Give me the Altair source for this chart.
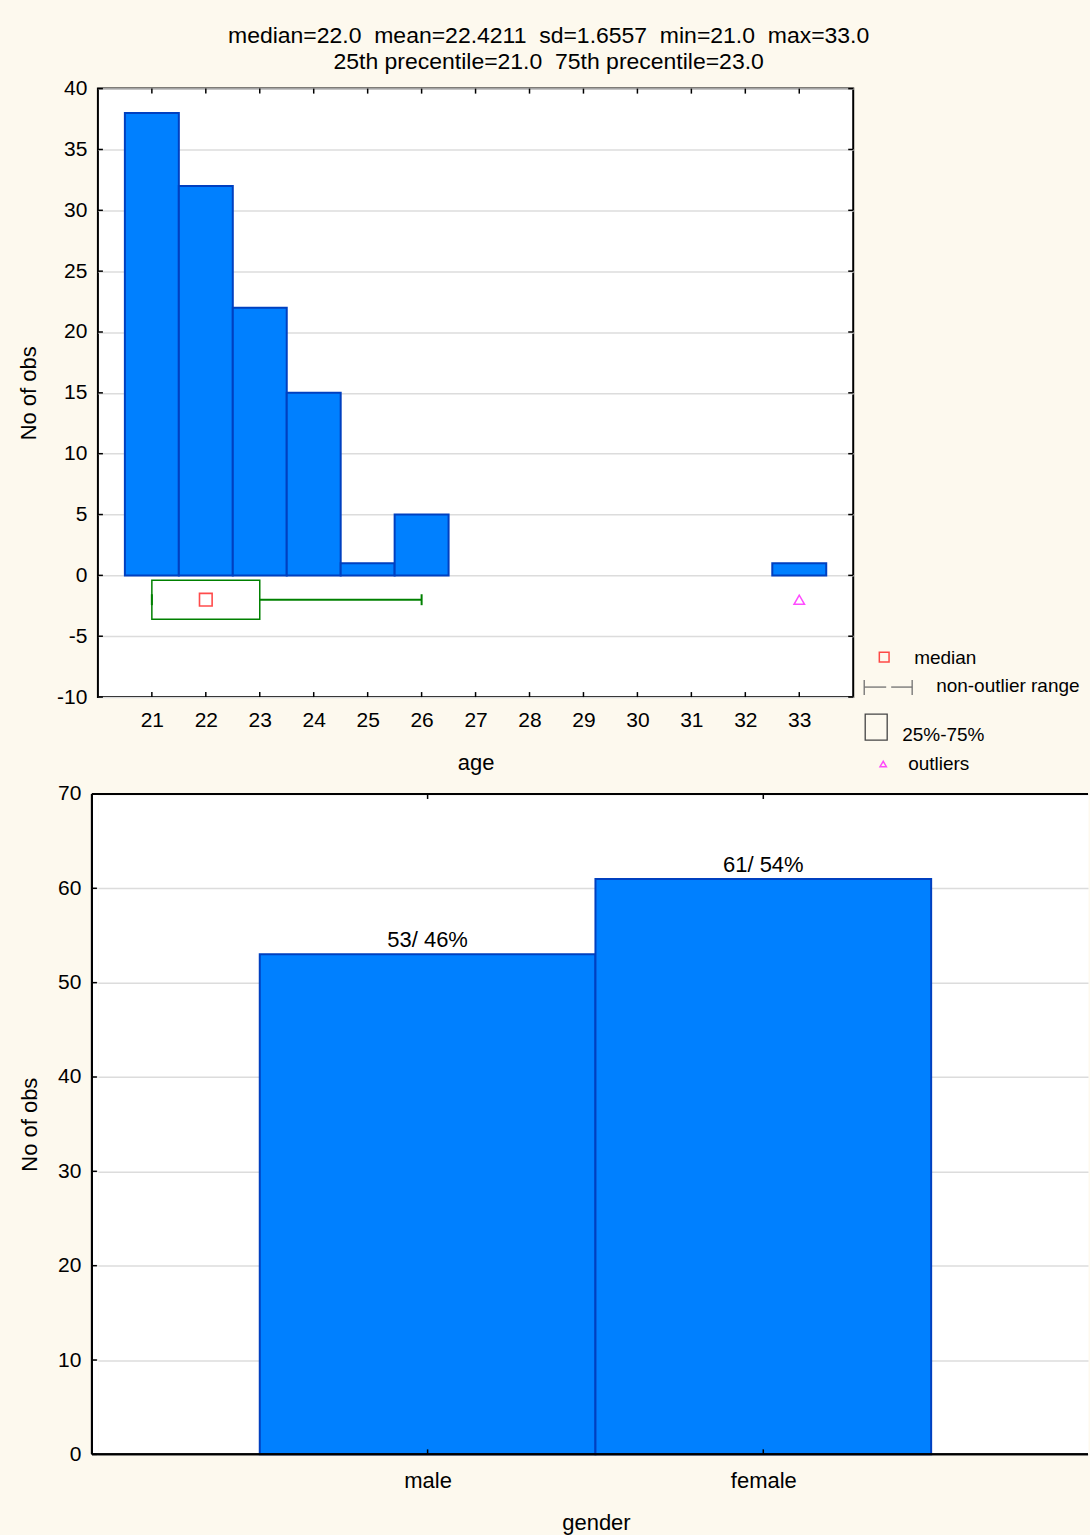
import altair as alt
import pandas as pd

FONT = "Liberation Sans"
PAGE_BG = "#FDF9EE"
BAR_FILL = "#0080FF"
BAR_EDGE = "#0040C0"
GRID = "#DCDCDC"

# ---- age: frequency table ----
ages = [21, 22, 23, 24, 25, 26, 27, 28, 29, 30, 31, 32, 33]
age_counts = [38, 32, 22, 15, 1, 5, 0, 0, 0, 0, 0, 0, 1]

# ---- age: descriptive statistics and box-plot summary ----
stat_median = 22.0
stat_mean = 22.4211
stat_sd = 1.6557
stat_min = 21.0
stat_max = 33.0
stat_q1 = 21.0
stat_q3 = 23.0
whisker_low = 21.0
whisker_high = 26.0
age_outliers = [33.0]

# ---- gender: frequency table ----
genders = ["male", "female"]
gender_counts = [53, 61]

top_y_ticks = list(range(-10, 41, 5))
bottom_y_ticks = list(range(0, 71, 10))

# ---------------------------------------------------------------
# Histogram of age with a horizontal box plot underneath
# ---------------------------------------------------------------
W1, H1 = 756, 609
BOX_Y = -2.0          # vertical position of the box plot (in count units)
BOX_HALF = 1.6        # half height of the box
CAP_HALF = 0.45       # half height of whisker caps

xs = alt.Scale(domain=[20, 34], nice=False, zero=False)
ys = alt.Scale(domain=[-10, 40], nice=False, zero=False)

hist = pd.DataFrame({"age": ages, "n": age_counts})
hist = hist[hist["n"] > 0].copy()
hist["lo"] = hist["age"] - 0.5
hist["hi"] = hist["age"] + 0.5
hist["base"] = 0

bars = alt.Chart(hist).mark_bar(
    fill=BAR_FILL, stroke=BAR_EDGE, strokeWidth=2
).encode(
    x=alt.X("lo:Q", scale=xs,
            axis=alt.Axis(values=ages, title="age", grid=False, ticks=False,
                          domain=False, labelPadding=12, titlePadding=23,
                          labelFlush=False, labelFontSize=21)),
    x2="hi:Q",
    y=alt.Y("n:Q", scale=ys,
            axis=alt.Axis(values=top_y_ticks, title="No of obs", grid=True,
                          gridColor=GRID, gridWidth=1.5, ticks=False, domain=False,
                          labelPadding=11, titlePadding=16, labelFlush=False,
                          labelExpr="'' + datum.value", labelFontSize=21)),
    y2="base:Q",
)

box_df = pd.DataFrame({
    "q1": [stat_q1], "q3": [stat_q3], "med": [stat_median],
    "wlo": [whisker_low], "whi": [whisker_high],
    "y": [BOX_Y], "top": [BOX_Y + BOX_HALF], "bot": [BOX_Y - BOX_HALF],
    "ctop": [BOX_Y + CAP_HALF], "cbot": [BOX_Y - CAP_HALF],
})
GREEN = "#008000"
box = alt.Chart(box_df).mark_rect(
    fill="white", fillOpacity=0, stroke=GREEN, strokeWidth=1.5
).encode(x=alt.X("q1:Q", scale=xs), x2="q3:Q",
         y=alt.Y("top:Q", scale=ys), y2="bot:Q")
whisk_hi = alt.Chart(box_df).mark_rule(color=GREEN, strokeWidth=2).encode(
    x=alt.X("q3:Q", scale=xs), x2="whi:Q", y=alt.Y("y:Q", scale=ys))
whisk_lo = alt.Chart(box_df).mark_rule(color=GREEN, strokeWidth=2).encode(
    x=alt.X("wlo:Q", scale=xs), x2="q1:Q", y=alt.Y("y:Q", scale=ys))
cap_hi = alt.Chart(box_df).mark_rule(color=GREEN, strokeWidth=2).encode(
    x=alt.X("whi:Q", scale=xs), y=alt.Y("ctop:Q", scale=ys), y2="cbot:Q")
cap_lo = alt.Chart(box_df).mark_rule(color=GREEN, strokeWidth=2).encode(
    x=alt.X("wlo:Q", scale=xs), y=alt.Y("ctop:Q", scale=ys), y2="cbot:Q")
med_pt = alt.Chart(box_df).mark_point(
    shape="square", filled=False, color="#FF0000", size=160, strokeWidth=1.6
).encode(x=alt.X("med:Q", scale=xs), y=alt.Y("y:Q", scale=ys))

out_df = pd.DataFrame({"v": age_outliers, "y": [BOX_Y] * len(age_outliers)})
out_pt = alt.Chart(out_df).mark_point(
    shape="triangle-up", filled=False, color="#FF00FF", size=110, strokeWidth=1.5
).encode(x=alt.X("v:Q", scale=xs), y=alt.Y("y:Q", scale=ys))

# inward tick marks on all four sides of the frame
ty = pd.DataFrame({"v": top_y_ticks})
tx = pd.DataFrame({"v": ages})
tick_kw = dict(color="black", strokeWidth=1.5)
t_left = alt.Chart(ty).mark_rule(**tick_kw).encode(
    y=alt.Y("v:Q", scale=ys), x=alt.value(0), x2=alt.value(5))
t_right = alt.Chart(ty).mark_rule(**tick_kw).encode(
    y=alt.Y("v:Q", scale=ys), x=alt.value(W1 - 5), x2=alt.value(W1))
t_top = alt.Chart(tx).mark_rule(**tick_kw).encode(
    x=alt.X("v:Q", scale=xs), y=alt.value(0), y2=alt.value(5))
t_bottom = alt.Chart(tx).mark_rule(**tick_kw).encode(
    x=alt.X("v:Q", scale=xs), y=alt.value(H1 - 5), y2=alt.value(H1))

# legend for the box plot symbols (drawn to the right of the frame)
LEG = 19
leg_median = alt.Chart(box_df).mark_point(
    shape="square", filled=False, color="#FF0000", size=95, strokeWidth=1.5
).encode(x=alt.value(787), y=alt.value(569))
leg_range = [
    alt.Chart(box_df).mark_rule(color="#707070", strokeWidth=1.3).encode(
        x=alt.value(767), x2=alt.value(789), y=alt.value(599)),
    alt.Chart(box_df).mark_rule(color="#707070", strokeWidth=1.3).encode(
        x=alt.value(794), x2=alt.value(815), y=alt.value(599)),
    alt.Chart(box_df).mark_rule(color="#707070", strokeWidth=1.3).encode(
        x=alt.value(767), y=alt.value(592), y2=alt.value(607)),
    alt.Chart(box_df).mark_rule(color="#707070", strokeWidth=1.3).encode(
        x=alt.value(815), y=alt.value(592), y2=alt.value(607)),
]
leg_box = alt.Chart(box_df).mark_rect(
    fill="white", fillOpacity=0, stroke="#444444", strokeWidth=1.3
).encode(x=alt.value(768), x2=alt.value(790), y=alt.value(626), y2=alt.value(652))
leg_out = alt.Chart(box_df).mark_point(
    shape="triangle-up", filled=False, color="#FF00FF", size=40, strokeWidth=1.5
).encode(x=alt.value(786), y=alt.value(676))

def leg_text(txt, x, y):
    return alt.Chart(box_df).mark_text(
        text=txt, align="left", baseline="middle", font=FONT, fontSize=LEG,
        color="black"
    ).encode(x=alt.value(x), y=alt.value(y))

leg_labels = [
    leg_text("median", 817, 570),
    leg_text("non-outlier range", 839, 598),
    leg_text("25%-75%", 805, 647),
    leg_text("outliers", 811, 676),
]

sp = " \u00a0"
title_lines = [
    f"median={stat_median:.1f}{sp}mean={stat_mean:.4f}{sp}sd={stat_sd:.4f}{sp}"
    f"min={stat_min:.1f}{sp}max={stat_max:.1f}",
    f"25th precentile={stat_q1:.1f}{sp}75th precentile={stat_q3:.1f}",
]

top = alt.layer(
    bars, box, whisk_lo, whisk_hi, cap_lo, cap_hi, med_pt, out_pt,
    t_left, t_right, t_top, t_bottom,
    leg_median, *leg_range, leg_box, leg_out, *leg_labels,
).properties(
    width=W1, height=H1,
    title=alt.TitleParams(title_lines, font=FONT, fontSize=23,
                          fontWeight="normal", lineHeight=26, anchor="middle",
                          frame="bounds", offset=4, color="black"),
    view=alt.ViewBackground(fill="white", stroke="black", strokeWidth=2),
)

# ---------------------------------------------------------------
# Bar chart of gender
# ---------------------------------------------------------------
# The panel's frame starts EXT px left of the view origin that the
# column layout shares with the histogram above.
EXT = 6
W2, H2 = 991, 661
STEP = 336            # px per category
total = sum(gender_counts)
gdf = pd.DataFrame({"gender": genders, "n": gender_counts})
gdf["pos"] = range(1, len(genders) + 1)
gdf["lo"] = gdf["pos"] - 0.5
gdf["hi"] = gdf["pos"] + 0.5
gdf["base"] = 0
gdf["label"] = [f"{n}/ {round(100 * n / total)}%" for n in gdf["n"]]

x0 = EXT / STEP
gxs = alt.Scale(domain=[x0, x0 + W2 / STEP], nice=False, zero=False)
gys = alt.Scale(domain=[0, 70], nice=False, zero=False)
name_expr = "{" + ", ".join(f"'{i + 1}': '{g}'" for i, g in enumerate(genders)) + "}"

gbars = alt.Chart(gdf).mark_bar(
    fill=BAR_FILL, stroke=BAR_EDGE, strokeWidth=2
).encode(
    x=alt.X("lo:Q", scale=gxs,
            axis=alt.Axis(values=list(gdf["pos"]), title="gender", grid=False,
                          ticks=False, domain=False, labelPadding=16,
                          titlePadding=21, labelFlush=False, labelFontSize=22,
                          labelExpr=f"{name_expr}[datum.value]",
                          titleX=(W2 + EXT) / 2, titleAlign="center")),
    x2="hi:Q",
    y=alt.Y("n:Q", scale=gys,
            axis=alt.Axis(values=bottom_y_ticks, title="No of obs", grid=True,
                          gridColor=GRID, gridWidth=1.5, ticks=False, domain=False,
                          labelPadding=11 + EXT, titlePadding=16, labelFlush=False,
                          labelExpr="'' + datum.value", labelFontSize=21)),
    y2="base:Q",
)
glabels = alt.Chart(gdf).mark_text(
    baseline="bottom", dy=-2, font=FONT, fontSize=22, color="black"
).encode(x=alt.X("pos:Q", scale=gxs), y=alt.Y("n:Q", scale=gys), text="label:N")

gy = pd.DataFrame({"v": bottom_y_ticks})
gx = gdf[["pos"]]
g_fill = alt.Chart(gx).mark_rect(fill="white").encode(
    x=alt.value(-EXT), x2=alt.value(0), y=alt.value(0), y2=alt.value(H2))
g_grid = alt.Chart(gy).mark_rule(color=GRID, strokeWidth=1.5).encode(
    y=alt.Y("v:Q", scale=gys), x=alt.value(-EXT), x2=alt.value(0))
g_left = alt.Chart(gy).mark_rule(**tick_kw).encode(
    y=alt.Y("v:Q", scale=gys), x=alt.value(-EXT), x2=alt.value(-EXT + 5))
g_top = alt.Chart(gx).mark_rule(**tick_kw).encode(
    x=alt.X("pos:Q", scale=gxs), y=alt.value(0), y2=alt.value(5))
g_bottom = alt.Chart(gx).mark_rule(**tick_kw).encode(
    x=alt.X("pos:Q", scale=gxs), y=alt.value(H2 - 5), y2=alt.value(H2))
frame_kw = dict(color="black", strokeWidth=2)
f_top = alt.Chart(gx).mark_rule(**frame_kw).encode(
    x=alt.value(-EXT), x2=alt.value(W2), y=alt.value(0))
f_bottom = alt.Chart(gx).mark_rule(**frame_kw).encode(
    x=alt.value(-EXT), x2=alt.value(W2), y=alt.value(H2))
f_left = alt.Chart(gx).mark_rule(**frame_kw).encode(
    x=alt.value(-EXT), y=alt.value(0), y2=alt.value(H2))

bottom = alt.layer(
    g_fill, g_grid, gbars, glabels, g_left, g_top, g_bottom,
    f_top, f_bottom, f_left
).properties(
    width=W2, height=H2,
    view=alt.ViewBackground(fill="white", stroke="transparent"),
)

chart = alt.vconcat(top, bottom, spacing=7).properties(
    background=PAGE_BG,
    padding={"left": 16, "top": 23, "right": 0, "bottom": 0},
).configure_axis(
    labelFont=FONT, titleFont=FONT, titleFontSize=22, titleFontWeight="normal",
    labelColor="black", titleColor="black",
)

chart.save("out.html", embed_options={"renderer": "svg", "actions": False})
